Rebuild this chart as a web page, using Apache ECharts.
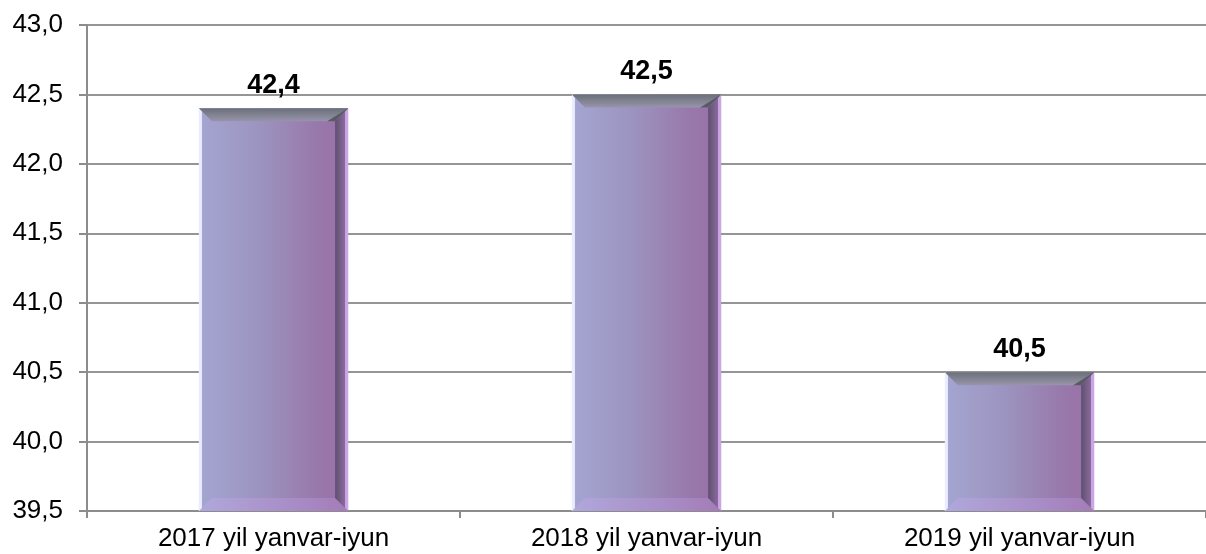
<!DOCTYPE html>
<html>
<head>
<meta charset="utf-8">
<script src="https://cdn.jsdelivr.net/npm/echarts@6/dist/echarts.min.js"></script>
<style>html,body{margin:0;padding:0;background:#fff}#c{width:1206px;height:554px}</style>
</head>
<body>
<div id="c"></div>
<script>
const categories = ['2017 yil yanvar-iyun', '2018 yil yanvar-iyun', '2019 yil yanvar-iyun'];
const values = [42.4, 42.5, 40.5];
const yMin = 39.5, yMax = 43.0, yStep = 0.5;

const fmt = v => Number(v).toFixed(1).replace('.', ',');
const chart = echarts.init(document.getElementById('c'));

function renderItem(params, api) {
  const idx = api.value(0), val = api.value(1);
  const top = api.coord([idx, val]);
  const bot = api.coord([idx, yMin]);
  const w = api.size([1, 0])[0] * 0.4;
  const x0 = top[0] - w / 2, x1 = top[0] + w / 2;
  const yT = top[1], yB = bot[1];
  const b = 13;
  const lin = (x, y, x2, y2, stops) => new echarts.graphic.LinearGradient(x, y, x2, y2, stops);
  return {
    type: 'group',
    children: [
      { type: 'rect', shape: { x: x0, y: yT, width: w, height: yB - yT },
        style: { fill: lin(0, 0, 1, 0, [
          { offset: 0, color: '#e4e4ff' }, { offset: 0.025, color: '#a4a4d0' },
          { offset: 0.4, color: '#9c94c0' }, { offset: 0.8, color: '#9878aa' },
          { offset: 1, color: '#9a70a8' }]) } },
      { type: 'polygon', shape: { points: [[x0, yB], [x1, yB], [x1 - b, yB - b], [x0 + b, yB - b]] },
        style: { fill: lin(0, 0, 1, 0, [{ offset: 0, color: '#b0a8dc' }, { offset: 1, color: '#a47cb8' }]) } },
      { type: 'polygon', shape: { points: [[x1, yT], [x1, yB], [x1 - b, yB - b], [x1 - b, yT + b]] },
        style: { fill: lin(0, 0, 1, 0, [
          { offset: 0, color: '#5e5070' }, { offset: 0.75, color: '#8a6a9c' },
          { offset: 0.8, color: '#c8a4e4' }, { offset: 1, color: '#caa8e8' }]) } },
      { type: 'polygon', shape: { points: [[x0, yT], [x0, yB], [x0 + 3, yB - 3], [x0 + 3, yT + 3]] },
        style: { fill: '#ececff' } },
      { type: 'polygon', shape: { points: [[x0, yT], [x1, yT], [x1 - b, yT + b], [x0 + b, yT + b]] },
        style: { fill: lin(0, 0, 0, 1, [{ offset: 0, color: '#6a7078' }, { offset: 1, color: '#9894ac' }]) } },
      { type: 'polygon', shape: { points: [[x1, yT], [x1 - b, yT + b], [x1 - b - 8, yT + b]] },
        style: { fill: '#5a5a66' } },
      { type: 'text', x: top[0], y: yT - 9,
        style: { text: fmt(val), fill: '#000', font: 'bold 27px "Liberation Sans", Arial, sans-serif',
          align: 'center', verticalAlign: 'bottom' } }
    ]
  };
}

chart.setOption({
  animation: false,
  grid: { left: 87, right: -8, top: 25, bottom: 43, containLabel: false },
  xAxis: {
    type: 'category', data: categories,
    axisLine: { lineStyle: { color: '#8c8c8c', width: 2 } },
    axisTick: { show: true, length: 7, lineStyle: { color: '#8c8c8c', width: 2 } },
    axisLabel: { color: '#000', fontSize: 26, fontFamily: '"Liberation Sans", Arial, sans-serif', margin: 15 }
  },
  yAxis: {
    type: 'value', min: yMin, max: yMax, interval: yStep,
    axisLine: { show: true, lineStyle: { color: '#8c8c8c', width: 2 } },
    axisTick: { show: true, length: 8, lineStyle: { color: '#8c8c8c', width: 2 } },
    splitLine: { lineStyle: { color: '#959595', width: 2 } },
    axisLabel: { color: '#000', fontSize: 26, fontFamily: '"Liberation Sans", Arial, sans-serif', margin: 24,
      formatter: v => fmt(v) }
  },
  series: [{
    type: 'custom', renderItem: renderItem, clip: false,
    encode: { x: 0, y: 1 },
    data: values.map((v, i) => [i, v])
  }]
});
</script>
</body>
</html>
